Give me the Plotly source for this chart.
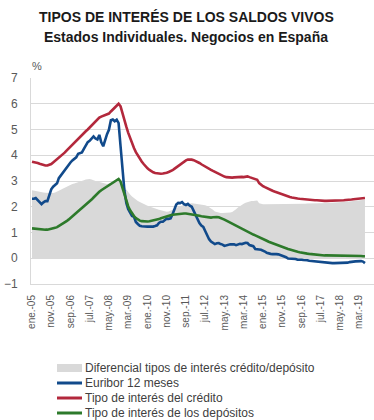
import pandas as pd
import plotly.graph_objects as go

# ---------------- data (monthly, ene-2005 .. jun-2019) ----------------
start_month = "2005-01-01"

euribor = [
    2.31, 2.31, 2.34, 2.27, 2.19, 2.10, 2.17, 2.22, 2.22, 2.41, 2.68, 2.78,
    2.83, 2.91, 3.11, 3.22, 3.31, 3.40, 3.54, 3.62, 3.72, 3.80, 3.86, 3.92,
    4.06, 4.09, 4.11, 4.25, 4.37, 4.51, 4.56, 4.67, 4.73, 4.65, 4.61, 4.79,
    4.50, 4.35, 4.59, 4.82, 4.99, 5.36, 5.39, 5.32, 5.38, 5.25, 4.35, 3.45,
    2.62, 2.14, 1.91, 1.77, 1.64, 1.61, 1.41, 1.33, 1.26, 1.24, 1.23, 1.24,
    1.23, 1.23, 1.22, 1.23, 1.25, 1.28, 1.37, 1.42, 1.42, 1.50, 1.54, 1.53,
    1.55, 1.71, 1.92, 2.09, 2.15, 2.14, 2.18, 2.10, 2.07, 2.11, 2.04, 2.00,
    1.84, 1.68, 1.50, 1.37, 1.27, 1.22, 1.06, 0.88, 0.74, 0.65, 0.59, 0.55,
    0.58, 0.59, 0.55, 0.53, 0.48, 0.51, 0.53, 0.54, 0.54, 0.54, 0.51, 0.54,
    0.56, 0.55, 0.58, 0.60, 0.59, 0.51, 0.49, 0.47, 0.36, 0.34, 0.34, 0.33,
    0.30, 0.26, 0.21, 0.18, 0.17, 0.16, 0.17, 0.16, 0.15, 0.13, 0.08, 0.06,
    0.04, -0.01, -0.01, -0.01, -0.01, -0.03, -0.06, -0.05, -0.06, -0.07, -0.07, -0.08,
    -0.10, -0.11, -0.11, -0.12, -0.13, -0.15, -0.15, -0.16, -0.17, -0.18, -0.19, -0.19,
    -0.19, -0.19, -0.19, -0.19, -0.19, -0.18, -0.18, -0.17, -0.17, -0.15, -0.15, -0.13,
    -0.12, -0.11, -0.11, -0.11, -0.13, -0.19,
]

credito = [
    3.75, 3.74, 3.72, 3.70, 3.67, 3.64, 3.62, 3.60, 3.60, 3.62, 3.66, 3.72,
    3.78, 3.84, 3.90, 3.96, 4.02, 4.10, 4.18, 4.26, 4.34, 4.42, 4.50, 4.58,
    4.65, 4.72, 4.79, 4.86, 4.93, 5.00, 5.08, 5.16, 5.24, 5.32, 5.40, 5.46,
    5.50, 5.53, 5.56, 5.58, 5.62, 5.70, 5.78, 5.86, 5.93, 6.00, 5.90, 5.60,
    5.35, 5.10, 4.88, 4.66, 4.45, 4.28, 4.12, 3.98, 3.86, 3.76, 3.66, 3.57,
    3.49, 3.43, 3.38, 3.34, 3.31, 3.29, 3.28, 3.28, 3.29, 3.30, 3.32, 3.35,
    3.38, 3.42, 3.47, 3.53, 3.59, 3.65, 3.71, 3.76, 3.80, 3.83, 3.84, 3.83,
    3.81, 3.78, 3.74, 3.70, 3.65, 3.60, 3.56, 3.51, 3.47, 3.43, 3.39, 3.35,
    3.32, 3.28, 3.24, 3.20, 3.17, 3.15, 3.14, 3.13, 3.13, 3.14, 3.15, 3.15,
    3.15, 3.16, 3.15, 3.17, 3.18, 3.15, 3.12, 3.08, 3.06, 3.05, 2.92, 2.85,
    2.80, 2.76, 2.72, 2.68, 2.65, 2.62, 2.59, 2.56, 2.53, 2.50, 2.47, 2.44,
    2.42, 2.40, 2.38, 2.36, 2.34, 2.33, 2.32, 2.31, 2.30, 2.29, 2.28, 2.27,
    2.27, 2.26, 2.26, 2.25, 2.25, 2.24, 2.24, 2.24, 2.23, 2.23, 2.23, 2.23,
    2.23, 2.24, 2.24, 2.24, 2.25, 2.25, 2.25, 2.26, 2.26, 2.27, 2.28, 2.29,
    2.30, 2.30, 2.31, 2.32, 2.33, 2.34,
]

depositos = [
    1.16, 1.15, 1.14, 1.13, 1.12, 1.12, 1.11, 1.11, 1.11, 1.12, 1.13, 1.15,
    1.18, 1.21, 1.25, 1.29, 1.33, 1.38, 1.44, 1.50, 1.56, 1.62, 1.69, 1.75,
    1.82, 1.89, 1.95, 2.01, 2.07, 2.13, 2.20, 2.28, 2.36, 2.44, 2.52, 2.58,
    2.64, 2.69, 2.73, 2.78, 2.82, 2.87, 2.92, 2.97, 3.03, 3.08, 2.98, 2.75,
    2.45, 2.22, 2.02, 1.86, 1.73, 1.64, 1.56, 1.50, 1.46, 1.44, 1.43, 1.43,
    1.43, 1.44, 1.45, 1.46, 1.48, 1.50, 1.52, 1.55, 1.58, 1.61, 1.63, 1.65,
    1.67, 1.69, 1.70, 1.72, 1.73, 1.73, 1.74, 1.74, 1.74, 1.73, 1.72, 1.71,
    1.70, 1.69, 1.67, 1.65, 1.63, 1.62, 1.60, 1.59, 1.58, 1.58, 1.59, 1.60,
    1.60, 1.59, 1.57, 1.54, 1.50, 1.46, 1.42, 1.38, 1.34, 1.30, 1.26, 1.22,
    1.18, 1.14, 1.10, 1.06, 1.02, 0.98, 0.95, 0.92, 0.89, 0.86, 0.83, 0.79,
    0.76, 0.72, 0.68, 0.64, 0.61, 0.58, 0.55, 0.52, 0.49, 0.46, 0.43, 0.40,
    0.38, 0.36, 0.34, 0.31, 0.29, 0.27, 0.25, 0.23, 0.21, 0.20, 0.19, 0.18,
    0.17, 0.16, 0.15, 0.14, 0.13, 0.13, 0.12, 0.12, 0.11, 0.11, 0.11, 0.10,
    0.10, 0.10, 0.10, 0.10, 0.09, 0.09, 0.09, 0.09, 0.09, 0.09, 0.09, 0.09,
    0.09, 0.09, 0.09, 0.09, 0.08, 0.08,
]

diferencial = [
    2.64, 2.62, 2.60, 2.58, 2.57, 2.56, 2.55, 2.54, 2.53, 2.52, 2.52, 2.53,
    2.55, 2.58, 2.62, 2.66, 2.70, 2.74, 2.78, 2.82, 2.86, 2.88, 2.90, 2.92,
    2.94, 2.97, 3.00, 3.03, 3.06, 3.08, 3.08, 3.06, 3.02, 3.00, 2.98, 2.96,
    2.94, 2.92, 2.90, 2.88, 2.90, 2.93, 2.96, 2.98, 3.00, 3.02, 2.96, 2.86,
    2.74, 2.64, 2.56, 2.48, 2.40, 2.33, 2.28, 2.22, 2.18, 2.14, 2.10, 2.07,
    2.04, 2.01, 1.98, 1.95, 1.92, 1.90, 1.88, 1.86, 1.84, 1.82, 1.81, 1.82,
    1.84, 1.88, 1.92, 1.96, 1.99, 2.02, 2.05, 2.08, 2.10, 2.12, 2.14, 2.14,
    2.13, 2.12, 2.12, 2.11, 2.10, 2.08, 2.06, 2.03, 1.99, 1.94, 1.88, 1.82,
    1.79, 1.77, 1.76, 1.76, 1.76, 1.77, 1.77, 1.78, 1.80, 1.84, 1.90, 1.97,
    2.03, 2.08, 2.12, 2.16, 2.19, 2.21, 2.22, 2.22, 2.23, 2.24, 2.14, 2.11,
    2.10, 2.10, 2.10, 2.10, 2.10, 2.10, 2.10, 2.10, 2.10, 2.10, 2.11, 2.11,
    2.11, 2.11, 2.11, 2.11, 2.11, 2.11, 2.12, 2.12, 2.12, 2.12, 2.12, 2.13,
    2.13, 2.13, 2.13, 2.13, 2.14, 2.14, 2.14, 2.14, 2.14, 2.15, 2.15, 2.15,
    2.16, 2.16, 2.17, 2.17, 2.18, 2.18, 2.19, 2.19, 2.20, 2.20, 2.21, 2.22,
    2.23, 2.23, 2.24, 2.25, 2.26, 2.27,
]

tick_labels = ["ene.-05", "nov.-05", "sep.-06", "jul.-07", "may.-08", "mar.-09",
               "ene.-10", "nov.-10", "sep.-11", "jul.-12", "may.-13", "mar.-14",
               "ene.-15", "nov.-15", "sep.-16", "jul.-17", "may.-18", "mar.-19"]

series_names = ["Diferencial tipos de interés crédito/depósito", "Euribor 12 meses",
                "Tipo de interés del crédito", "Tipo de interés de los depósitos"]

# ---------------- styles ----------------
C_GREY = "#d9d9d9"
C_BLUE = "#114a8b"
C_RED = "#b3283c"
C_GREEN = "#2d7a2b"
TXT = "#595959"
FONT = "Liberation Sans, Arial, sans-serif"

dates = pd.date_range(start_month, periods=len(euribor), freq="MS")
tick_vals = pd.date_range(start_month, periods=len(tick_labels), freq="10MS")

fig = go.Figure()
fig.add_trace(go.Scatter(x=dates, y=diferencial, name=series_names[0], mode="lines",
                         line=dict(width=0, color=C_GREY), fill="tozeroy",
                         fillcolor=C_GREY, showlegend=False))
fig.add_trace(go.Scatter(x=dates, y=euribor, name=series_names[1], mode="lines",
                         line=dict(width=2.6, color=C_BLUE), showlegend=False))
fig.add_trace(go.Scatter(x=dates, y=credito, name=series_names[2], mode="lines",
                         line=dict(width=2.6, color=C_RED), showlegend=False))
fig.add_trace(go.Scatter(x=dates, y=depositos, name=series_names[3], mode="lines",
                         line=dict(width=2.6, color=C_GREEN), showlegend=False))

W, H = 374, 420
L, R, T, B = 31, 0, 78, 136
fig.update_layout(
    width=W, height=H,
    margin=dict(l=L, r=R, t=T, b=B),
    paper_bgcolor="white", plot_bgcolor="white",
    font=dict(family=FONT, color=TXT, size=12),
    showlegend=False,
    xaxis=dict(type="date", range=["2004-12-16", "2019-10-22"],
               tickmode="array", tickvals=tick_vals, ticktext=tick_labels,
               tickangle=-90, tickfont=dict(size=10, color=TXT),
               showgrid=False, showline=True, linecolor=C_GREY, linewidth=1,
               ticks="", ticklabelstandoff=6, zeroline=False),
    yaxis=dict(range=[-1, 7], dtick=1, tick0=0, showgrid=True, gridcolor=C_GREY,
               gridwidth=1, zeroline=False, showline=True, linecolor=C_GREY,
               linewidth=1, tickfont=dict(size=12, color=TXT), ticks="",
               ticklabelstandoff=10),
)

# titles
fig.add_annotation(text="<b>TIPOS DE INTERÉS DE LOS SALDOS VIVOS</b>", x=186, y=H - 17,
                   xref="x domain" if False else "paper", yref="paper", showarrow=False,
                   font=dict(size=14, color="#1a1a1a"))
anns = []
def px_x(px):
    return (px - L) / (W - L - R)
def px_y(py):
    return (H - B - py) / (H - T - B)

fig.layout.annotations = []
fig.add_annotation(text="<b>TIPOS DE INTERÉS DE LOS SALDOS VIVOS</b>",
                   x=px_x(186), y=px_y(17), xref="paper", yref="paper",
                   showarrow=False, xanchor="center", yanchor="middle",
                   font=dict(size=14, color="#1a1a1a"))
fig.add_annotation(text="<b>Estados Individuales. Negocios en España</b>",
                   x=px_x(186), y=px_y(37), xref="paper", yref="paper",
                   showarrow=False, xanchor="center", yanchor="middle",
                   font=dict(size=14, color="#1a1a1a"))
fig.add_annotation(text="%", x=px_x(30), y=px_y(66), xref="paper", yref="paper",
                   showarrow=False, xanchor="left", yanchor="middle",
                   font=dict(size=11, color=TXT))

# custom legend
leg_y = [368, 383, 398, 413]
sw_x0, sw_x1, txt_x = 57, 82, 83
fig.add_shape(type="rect", xref="paper", yref="paper",
              x0=px_x(sw_x0), x1=px_x(sw_x1), y0=px_y(leg_y[0] + 4), y1=px_y(leg_y[0] - 4),
              fillcolor=C_GREY, line=dict(width=0))
for yy, col in zip(leg_y[1:], [C_BLUE, C_RED, C_GREEN]):
    fig.add_shape(type="line", xref="paper", yref="paper",
                  x0=px_x(sw_x0), x1=px_x(sw_x1), y0=px_y(yy), y1=px_y(yy),
                  line=dict(color=col, width=3))
for yy, name in zip(leg_y, series_names):
    fig.add_annotation(text=name, x=px_x(txt_x), y=px_y(yy), xref="paper", yref="paper",
                       showarrow=False, xanchor="left", yanchor="middle",
                       font=dict(size=12, color="#404040"))

fig.write_html("out.html")
